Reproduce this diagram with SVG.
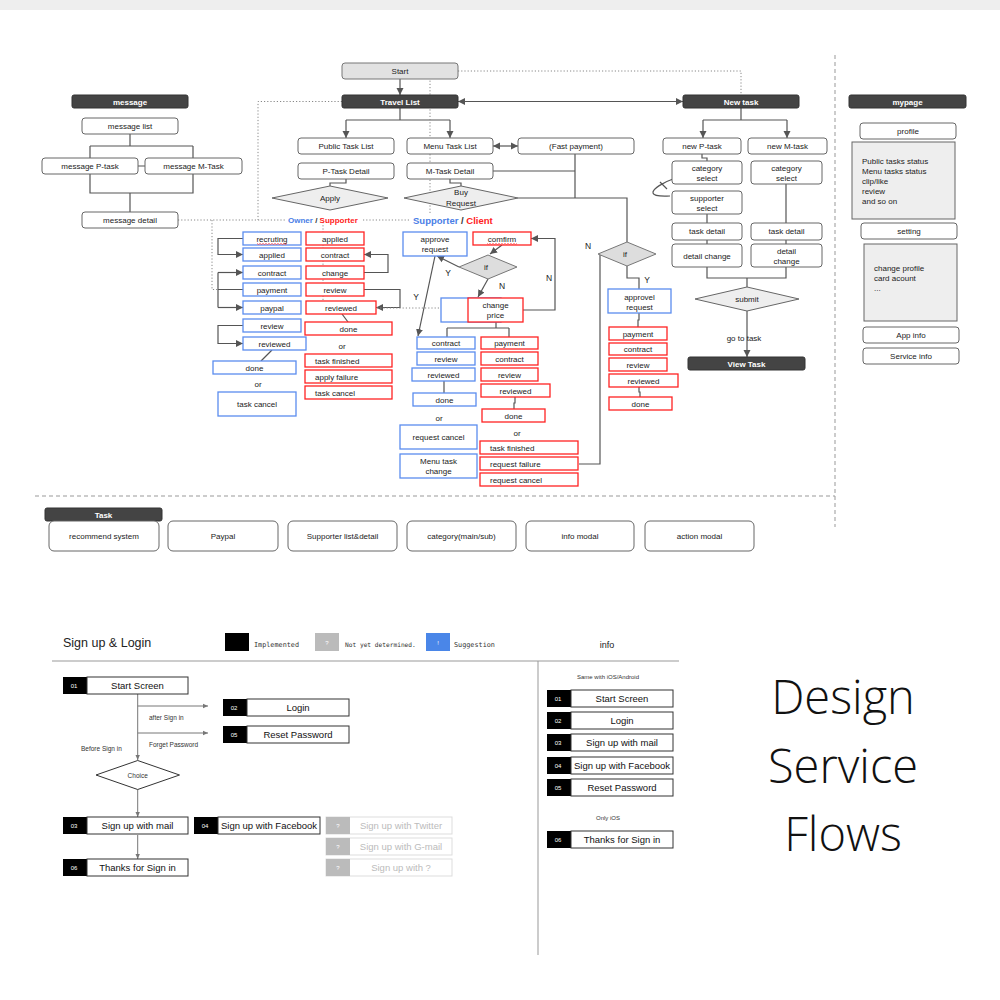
<svg xmlns="http://www.w3.org/2000/svg" width="1000" height="1000" viewBox="0 0 1000 1000">
<style>
.bx{fill:#fff;stroke:#666;stroke-width:1}
.hd{fill:#444;stroke:#333;stroke-width:1}
.bl{fill:#fff;stroke:#5b8def;stroke-width:1.3}
.rd{fill:#fff;stroke:#f22;stroke-width:1.3}
.gy{fill:#eee;stroke:#666;stroke-width:1}
.tk{fill:#fff;stroke:#666;stroke-width:1}
text{font-family:"Liberation Sans",Arial,sans-serif;font-size:8px;fill:#222;text-anchor:middle}
.ht{fill:#fff;font-weight:bold}
.st{text-anchor:start}
.lb{font-size:8.5px}
.c{fill:none;stroke:#555;stroke-width:1.2}
.d{fill:none;stroke:#888;stroke-width:1;stroke-dasharray:1.2 2}
.ds{fill:none;stroke:#999;stroke-width:1;stroke-dasharray:4 3}
.sq{fill:none;stroke:#f44;stroke-width:0.8}
.k{fill:#000}
.wb{fill:#fff;stroke:#333;stroke-width:1}
.nm{fill:#fff;font-size:6px}
.sl{font-size:9.5px;fill:#111}
.gk{fill:#bbb}
.gb{fill:#fff;stroke:#ddd;stroke-width:1}
.gt{font-size:9.5px;fill:#bbb}
.sc{fill:none;stroke:#777;stroke-width:1}
.sm{font-size:6.5px;fill:#333}
.xs{font-size:6px;fill:#333}
.mono{font-family:"DejaVu Sans Mono",monospace;fill:#333}
.big{font-family:"Open Sans","Noto Sans",sans-serif;font-size:47px;font-weight:300;fill:#111}
.role{font-weight:bold}
</style>
<defs>
<marker id="a" markerUnits="userSpaceOnUse" markerWidth="8" markerHeight="8" refX="7" refY="4" orient="auto-start-reverse"><path d="M0,0.5 L7,4 L0,7.5 z" fill="#555"/></marker>
<marker id="s" markerUnits="userSpaceOnUse" markerWidth="6" markerHeight="6" refX="5" refY="3" orient="auto"><path d="M0,0.8 L5,3 L0,5.2 z" fill="#777"/></marker>
</defs>
<rect x="0" y="0" width="1000" height="10" fill="#eee"/>
<rect x="0" y="10" width="1000" height="990" fill="#fff"/>

<g id="separators">
<path class="ds" d="M35,496 H835"/>
<path class="ds" d="M835,55 V527"/>
</g>

<g id="connectors">
<path class="c" d="M130,134 V146 M90,146 H193 M90,146 V158 M193,146 V158 M138,166 H145 M90,174 V193 H193 V174 M130,193 V212"/>
<path class="c" d="M400,79 V95" marker-end="url(#a)"/>
<path class="c" d="M400,108 V120 M346,120 H450"/>
<path class="c" d="M346,120 V138" marker-end="url(#a)"/>
<path class="c" d="M450,120 V138" marker-end="url(#a)"/>
<path class="c" d="M493,146 H518" marker-start="url(#a)" marker-end="url(#a)"/>
<path class="c" d="M346,179 V183 H330 V186"/>
<path class="c" d="M450,179 V183 H461 V186"/>
<path class="c" d="M493,171 H575 M575,154 V198 M518,198 H627 V242"/>
<path class="c" d="M458,101.5 H683" marker-start="url(#a)" marker-end="url(#a)"/>
<path class="c" d="M741,108 V120 M703,120 H787"/>
<path class="c" d="M703,120 V138" marker-end="url(#a)"/>
<path class="c" d="M787,120 V138" marker-end="url(#a)"/>
<path class="c" d="M702,154 V158 H707 V161 M707,214 V223 M707,240 V244 M786,184 V223 M786,240 V244 M707,267 V278 H786 V267 M747,278 V287"/>
<path class="c" d="M747,311 V357" marker-end="url(#a)"/>
<path class="c" d="M673,179 C664,182 652,189 653,193 C654,197 664,196 670,196 M660,182 L667,189" stroke-width="1"/>
<path class="c" d="M627,266 V278 H639 V289 M639,313 V320 H638 V327 M639,387 V392 H640 V397"/>
<path class="c" d="M600,255 V464 H579"/>
<path class="c" d="M243,238.5 H218 V254.5 H243" marker-end="url(#a)"/>
<path class="c" d="M243,289.5 H218 M218,272.5 V307.5"/>
<path class="c" d="M218,272.5 H243" marker-end="url(#a)"/>
<path class="c" d="M218,307.5 H243" marker-end="url(#a)"/>
<path class="c" d="M243,325.5 H218 V343.5 H243" marker-end="url(#a)"/>
<path class="c" d="M272,350 L261,361"/>
<path class="c" d="M364,272.5 H388 V254.5 H364" marker-end="url(#a)"/>
<path class="c" d="M364,289.5 H400 V307.5 H376" marker-end="url(#a)"/>
<path class="c" d="M342,314 L348,322"/>
<path class="c" d="M502,245 L490,254" marker-end="url(#a)"/>
<path class="c" d="M459,267 L437,256" marker-end="url(#a)"/>
<path class="c" d="M488,279 L478,297" marker-end="url(#a)"/>
<path class="c" d="M523,310 H555 V238.5 H531" marker-end="url(#a)"/>
<path class="c" d="M435,256 L418,336" marker-end="url(#a)"/>
<path class="c" d="M496,322 V328 M447,328 H509 M447,328 V337 M509,328 V337 M444,381 V393 M515,397 V403 H514 V409"/>
<path class="d" d="M458,71 H741 V95"/>
<path class="d" d="M342,101.5 H258 V220"/>
<path class="d" d="M178,220 H286 M363,220 H411"/>
<path class="d" d="M430,71 V213"/>
<path class="d" d="M212,220 V289.5 H218"/>
<path class="d" d="M323,222 V308"/>
<path class="d" d="M377,308 H441"/>
</g>

<g id="message"><rect class="hd" x="72" y="95" width="116" height="13" rx="2"/><text class="ht" x="130" y="104.5">message</text></g>
<g id="message-list"><rect class="bx" x="82" y="118" width="96" height="16" rx="3"/><text x="130" y="129">message list</text></g>
<g id="message-p"><rect class="bx" x="42" y="158" width="96" height="16" rx="3"/><text x="90" y="169">message P-task</text></g>
<g id="message-m"><rect class="bx" x="145" y="158" width="97" height="16" rx="3"/><text x="193.5" y="169">message M-Task</text></g>
<g id="message-detail"><rect class="bx" x="82" y="212" width="96" height="16" rx="3"/><text x="130" y="223">message detail</text></g>

<g id="start"><rect x="342" y="63" width="116" height="16" rx="3" fill="#e2e2e2" stroke="#777"/><text x="400" y="74">Start</text></g>
<g id="travel-list"><rect class="hd" x="342" y="95" width="116" height="13" rx="2"/><text class="ht" x="400" y="104.5">Travel List</text></g>
<g id="new-task"><rect class="hd" x="683" y="95" width="116" height="13" rx="2"/><text class="ht" x="741" y="104.5">New task</text></g>
<g id="public-task-list"><rect class="bx" x="298" y="138" width="96" height="16" rx="3"/><text x="346" y="149">Public Task List</text></g>
<g id="p-task-detail"><rect class="bx" x="298" y="163" width="96" height="16" rx="3"/><text x="346" y="174">P-Task Detail</text></g>
<g id="apply"><polygon class="gy" points="272,198 330,186 388,198 330,210"/><text x="330" y="201">Apply</text></g>
<g id="menu-task-list"><rect class="bx" x="407" y="138" width="86" height="16" rx="3"/><text x="450" y="149">Menu Task List</text></g>
<g id="m-task-detail"><rect class="bx" x="407" y="163" width="86" height="16" rx="3"/><text x="450" y="174">M-Task Detail</text></g>
<g id="buy-request"><polygon class="gy" points="404,198 461,186 518,198 461,210"/><text x="461" y="195">Buy</text><text x="461" y="205.5">Request</text></g>
<g id="fast-payment"><rect class="bx" x="518" y="138" width="116" height="16" rx="3"/><text x="576" y="149">(Fast payment)</text></g>

<g id="new-p-task"><rect class="bx" x="663" y="138" width="78" height="16" rx="3"/><text x="702" y="149">new P-task</text></g>
<g id="new-m-task"><rect class="bx" x="748" y="138" width="79" height="16" rx="3"/><text x="787.5" y="149">new M-task</text></g>
<g id="category-p"><rect class="bx" x="672" y="161" width="70" height="23" rx="3"/><text x="707" y="171">category</text><text x="707" y="180.5">select</text></g>
<g id="category-m"><rect class="bx" x="751" y="161" width="71" height="23" rx="3"/><text x="786.5" y="171">category</text><text x="786.5" y="180.5">select</text></g>
<g id="supporter-select"><rect class="bx" x="672" y="191" width="70" height="23" rx="3"/><text x="707" y="201">supporter</text><text x="707" y="211">select</text></g>
<g id="task-detail-p"><rect class="bx" x="672" y="223" width="70" height="17" rx="3"/><text x="707" y="234">task detail</text></g>
<g id="task-detail-m"><rect class="bx" x="751" y="223" width="71" height="17" rx="3"/><text x="786.5" y="234">task detail</text></g>
<g id="detail-change-p"><rect class="bx" x="672" y="244" width="70" height="23" rx="3"/><text x="707" y="258.5">detail change</text></g>
<g id="detail-change-m"><rect class="bx" x="751" y="244" width="71" height="23" rx="3"/><text x="786.5" y="254">detail</text><text x="786.5" y="264">change</text></g>
<g id="submit"><polygon class="gy" points="695,299 747,287 799,299 747,311"/><text x="747" y="302">submit</text></g>
<g id="go-to-task-label"><text x="744" y="341">go to task</text></g>
<g id="view-task"><rect class="hd" x="688" y="357" width="117" height="13" rx="2"/><text class="ht" x="746.5" y="366.5">View Task</text></g>

<g id="mypage"><rect class="hd" x="849" y="95" width="117" height="13" rx="2"/><text class="ht" x="907.5" y="104.5">mypage</text></g>
<g id="profile"><rect class="bx" x="860" y="123" width="96" height="16" rx="3"/><text x="908" y="134">profile</text></g>
<g id="profile-box"><rect class="gy" x="852" y="142" width="103" height="77"/><text class="st" x="862" y="164">Public tasks status</text><text class="st" x="862" y="174">Menu tasks status</text><text class="st" x="862" y="184">clip/like</text><text class="st" x="862" y="194">review</text><text class="st" x="862" y="204">and so on</text></g>
<g id="setting"><rect class="bx" x="861" y="223" width="96" height="16" rx="3"/><text x="909" y="234">setting</text></g>
<g id="setting-box"><rect class="gy" x="864" y="244" width="93" height="77"/><text class="st" x="874" y="270.5">change profile</text><text class="st" x="874" y="280.5">card acount</text><text class="st" x="874" y="290.5">...</text></g>
<g id="app-info"><rect class="bx" x="863" y="327" width="96" height="16" rx="3"/><text x="911" y="338">App info</text></g>
<g id="service-info"><rect class="bx" x="863" y="348" width="96" height="16" rx="3"/><text x="911" y="359">Service info</text></g>

<g id="owner-supporter-label"><text class="st role" x="288" y="223"><tspan fill="#4a7ee6">Owner</tspan><tspan fill="#333"> / </tspan><tspan fill="#f22">Supporter</tspan></text></g>
<g id="supporter-client-label"><text class="st role" x="413" y="223.5" style="font-size:9.5px"><tspan fill="#4a7ee6">Supporter</tspan><tspan fill="#333"> / </tspan><tspan fill="#f22">Client</tspan></text></g>

<g id="o-recruting"><rect class="bl" x="243" y="232" width="58" height="13"/><text x="272" y="241.5">recruting</text><path class="sq" d="M257,243.5 l1.5,1 1.5,-1 1.5,1 1.5,-1 1.5,1 1.5,-1 1.5,1 1.5,-1 1.5,1 1.5,-1 1.5,1 1.5,-1 1.5,1 1.5,-1 1.5,1 1.5,-1 1.5,1 1.5,-1 1.5,1 1.5,-1"/></g>
<g id="o-applied"><rect class="bl" x="243" y="248" width="58" height="13"/><text x="272" y="257.5">applied</text></g>
<g id="o-contract"><rect class="bl" x="243" y="266" width="58" height="13"/><text x="272" y="275.5">contract</text></g>
<g id="o-payment"><rect class="bl" x="243" y="283" width="58" height="13"/><text x="272" y="292.5">payment</text></g>
<g id="o-paypal"><rect class="bl" x="243" y="301" width="58" height="13"/><text x="272" y="310.5">paypal</text></g>
<g id="o-review"><rect class="bl" x="243" y="319" width="58" height="13"/><text x="272" y="328.5">review</text></g>
<g id="o-reviewed"><rect class="bl" x="243" y="337" width="63" height="13"/><text x="274.5" y="346.5">reviewed</text></g>
<g id="o-done"><rect class="bl" x="213" y="361" width="83" height="13"/><text x="254.5" y="370.5">done</text></g>
<g id="o-or"><text x="258" y="387">or</text></g>
<g id="o-task-cancel"><rect class="bl" x="218" y="392" width="78" height="24"/><text x="257" y="407">task cancel</text></g>

<g id="s-applied"><rect class="rd" x="306" y="232" width="58" height="13"/><text x="335" y="241.5">applied</text></g>
<g id="s-contract"><rect class="rd" x="306" y="248" width="58" height="13"/><text x="335" y="257.5">contract</text></g>
<g id="s-change"><rect class="rd" x="306" y="266" width="58" height="13"/><text x="335" y="275.5">change</text></g>
<g id="s-review"><rect class="rd" x="306" y="283" width="58" height="13"/><text x="335" y="292.5">review</text></g>
<g id="s-reviewed"><rect class="rd" x="306" y="301" width="70" height="13"/><text x="341" y="310.5">reviewed</text></g>
<g id="s-done"><rect class="rd" x="305" y="322" width="87" height="13"/><text x="348.5" y="331.5">done</text></g>
<g id="s-or"><text x="342" y="349">or</text></g>
<g id="s-task-finished"><rect class="rd" x="305" y="354" width="87" height="13"/><text class="st" x="315" y="363.5">task finished</text></g>
<g id="s-apply-failure"><rect class="rd" x="305" y="370" width="87" height="13"/><text class="st" x="315" y="379.5">apply failure</text></g>
<g id="s-task-cancel"><rect class="rd" x="305" y="386" width="87" height="13"/><text class="st" x="315" y="395.5">task cancel</text></g>

<g id="m-approve-request"><rect class="bl" x="403" y="232" width="64" height="24"/><text x="435" y="242">approve</text><text x="435" y="252">request</text></g>
<g id="m-contract"><rect class="bl" x="417" y="337" width="58" height="12"/><text x="446" y="346">contract</text></g>
<g id="m-review"><rect class="bl" x="417" y="352" width="58" height="13"/><text x="446" y="361.5">review</text></g>
<g id="m-reviewed"><rect class="bl" x="412" y="368" width="63" height="13"/><text x="443.5" y="377.5">reviewed</text></g>
<g id="m-done"><rect class="bl" x="413" y="393" width="63" height="13"/><text x="444.5" y="402.5">done</text></g>
<g id="m-or"><text x="439" y="421">or</text></g>
<g id="m-request-cancel"><rect class="bl" x="400" y="425" width="77" height="24"/><text x="438.5" y="440">request cancel</text></g>
<g id="m-menu-task-change"><rect class="bl" x="400" y="454" width="77" height="24"/><text x="438.5" y="463.5">Menu task</text><text x="438.5" y="474">change</text></g>

<g id="c-comfirm"><rect class="rd" x="473" y="232" width="58" height="13"/><text x="502" y="241.5">comfirm</text><path class="sq" d="M487,243.5 l1.5,1 1.5,-1 1.5,1 1.5,-1 1.5,1 1.5,-1 1.5,1 1.5,-1 1.5,1 1.5,-1 1.5,1 1.5,-1 1.5,1 1.5,-1 1.5,1 1.5,-1 1.5,1 1.5,-1 1.5,1 1.5,-1"/></g>
<g id="c-if"><polygon points="459,267 488,255 517,267 488,279" fill="#ddd" stroke="#777"/><text x="486" y="270">if</text></g>
<g id="c-change-price"><rect class="bl" x="441" y="298" width="60" height="24"/><rect class="rd" x="468" y="298" width="55" height="24"/><text x="495.5" y="308">change</text><text x="495.5" y="318">price</text></g>
<g id="c-payment"><rect class="rd" x="481" y="337" width="57" height="12"/><text x="509.5" y="346">payment</text></g>
<g id="c-contract"><rect class="rd" x="481" y="352" width="57" height="13"/><text x="509.5" y="361.5">contract</text></g>
<g id="c-review"><rect class="rd" x="481" y="368" width="57" height="13"/><text x="509.5" y="377.5">review</text></g>
<g id="c-reviewed"><rect class="rd" x="481" y="384" width="69" height="13"/><text x="515.5" y="393.5">reviewed</text></g>
<g id="c-done"><rect class="rd" x="482" y="409" width="63" height="13"/><text x="513.5" y="418.5">done</text></g>
<g id="c-or"><text x="517" y="436">or</text></g>
<g id="c-task-finished"><rect class="rd" x="480" y="441" width="98" height="13"/><text class="st" x="490" y="450.5">task finished</text></g>
<g id="c-request-failure"><rect class="rd" x="480" y="457" width="98" height="13"/><text class="st" x="490" y="466.5">request failure</text></g>
<g id="c-request-cancel"><rect class="rd" x="480" y="473" width="98" height="13"/><text class="st" x="490" y="482.5">request cancel</text></g>

<g id="f-if"><polygon points="598,254 627,242 656,254 627,266" fill="#ddd" stroke="#777"/><text x="625" y="257">if</text></g>
<g id="f-approvel-request"><rect class="bl" x="608" y="289" width="63" height="24"/><text x="639.5" y="299.5">approvel</text><text x="639.5" y="309.5">request</text></g>
<g id="f-payment"><rect class="rd" x="609" y="327" width="58" height="13"/><text x="638" y="336.5">payment</text></g>
<g id="f-contract"><rect class="rd" x="609" y="343" width="58" height="12"/><text x="638" y="352">contract</text></g>
<g id="f-review"><rect class="rd" x="609" y="358" width="58" height="13"/><text x="638" y="367.5">review</text></g>
<g id="f-reviewed"><rect class="rd" x="609" y="374" width="69" height="13"/><text x="643.5" y="383.5">reviewed</text></g>
<g id="f-done"><rect class="rd" x="609" y="397" width="63" height="13"/><text x="640.5" y="406.5">done</text></g>

<g id="yn-labels">
<text class="lb" x="588" y="249">N</text>
<text class="lb" x="647" y="283">Y</text>
<text class="lb" x="549" y="281">N</text>
<text class="lb" x="448" y="276">Y</text>
<text class="lb" x="502" y="289">N</text>
<text class="lb" x="416" y="300">Y</text>
</g>

<g id="task-header"><rect class="hd" x="45" y="508" width="117" height="13" rx="2"/><text class="ht" x="103.5" y="517.5">Task</text></g>
<g id="recommend-system"><rect class="tk" x="49" y="521" width="110" height="30" rx="5"/><text x="104" y="539">recommend system</text></g>
<g id="paypal"><rect class="tk" x="168" y="521" width="110" height="30" rx="5"/><text x="223" y="539">Paypal</text></g>
<g id="supporter-list"><rect class="tk" x="288" y="521" width="109" height="30" rx="5"/><text x="342.5" y="539">Supporter list&amp;detail</text></g>
<g id="category"><rect class="tk" x="407" y="521" width="109" height="30" rx="5"/><text x="461.5" y="539">category(main/sub)</text></g>
<g id="info-modal"><rect class="tk" x="526" y="521" width="108" height="30" rx="5"/><text x="580" y="539">info modal</text></g>
<g id="action-modal"><rect class="tk" x="645" y="521" width="109" height="30" rx="5"/><text x="699.5" y="539">action modal</text></g>

<g id="signup-header">
<text class="st" x="63" y="647" style="font-size:12.5px;fill:#222">Sign up &amp; Login</text>
<rect x="225" y="633" width="24" height="18" fill="#000"/>
<text class="st mono" x="254" y="647" style="font-size:6.8px">Implemented</text>
<rect x="315" y="633" width="24" height="18" fill="#bbb"/><text x="327" y="644.5" style="fill:#fff;font-size:6px">?</text>
<text class="st mono" x="345" y="647" style="font-size:6.2px">Not yet determined.</text>
<rect x="426" y="633" width="24" height="18" fill="#4a86e8"/><text x="438" y="644.5" style="fill:#fff;font-size:6px">!</text>
<text class="st mono" x="454" y="647" style="font-size:6.8px">Suggestion</text>
<text x="607" y="648" style="font-size:9px">info</text>
<path d="M52,661 H679 M538,661 V955" stroke="#999" stroke-width="1" fill="none"/>
</g>

<g id="signup-connectors">
<path class="sc" d="M137.7,694 V760" marker-end="url(#s)"/>
<path class="sc" d="M137.7,706 H208" marker-end="url(#s)"/>
<path class="sc" d="M137.7,733 H208" marker-end="url(#s)"/>
<path class="sc" d="M137.7,789.5 V817" marker-end="url(#s)"/>
<path class="sc" d="M137.7,835 V859" marker-end="url(#s)"/>
<text class="st sm" x="149" y="720">after Sign in</text>
<text class="st sm" x="149" y="746.5">Forget Password</text>
<text class="st sm" x="81" y="751">Before Sign in</text>
</g>

<g id="s01"><rect class="k" x="63" y="677" width="24" height="17"/><rect class="wb" x="87" y="677" width="101" height="17"/><text class="nm" x="74" y="687.5">01</text><text class="sl" x="137.5" y="689">Start Screen</text></g>
<g id="s02"><rect class="k" x="223" y="699" width="24" height="17"/><rect class="wb" x="247" y="699" width="102" height="17"/><text class="nm" x="234" y="709.5">02</text><text class="sl" x="298" y="711">Login</text></g>
<g id="s05"><rect class="k" x="223" y="726" width="24" height="17"/><rect class="wb" x="247" y="726" width="102" height="17"/><text class="nm" x="234" y="736.5">05</text><text class="sl" x="298" y="738">Reset Password</text></g>
<g id="choice"><polygon points="96,775 137.7,760.5 179.5,775 137.7,789.5" fill="#fff" stroke="#333"/><text class="sm" x="137.7" y="777.5">Choice</text></g>
<g id="s03"><rect class="k" x="63" y="817" width="24" height="17"/><rect class="wb" x="87" y="817" width="101" height="17"/><text class="nm" x="74" y="827.5">03</text><text class="sl" x="137.5" y="829">Sign up with mail</text></g>
<g id="s04"><rect class="k" x="194" y="817" width="24" height="17"/><rect class="wb" x="218" y="817" width="102" height="17"/><text class="nm" x="205" y="827.5">04</text><text class="sl" x="269" y="829">Sign up with Facebook</text></g>
<g id="s06"><rect class="k" x="63" y="859" width="24" height="17"/><rect class="wb" x="87" y="859" width="101" height="17"/><text class="nm" x="74" y="869.5">06</text><text class="sl" x="137.5" y="871">Thanks for Sign in</text></g>
<g id="q-twitter"><rect class="gb" x="326" y="817" width="126" height="17"/><rect class="gk" x="326" y="817" width="24" height="17"/><text class="nm" x="338" y="827.5">?</text><text class="gt" x="401" y="829">Sign up with Twitter</text></g>
<g id="q-gmail"><rect class="gb" x="326" y="838" width="126" height="17"/><rect class="gk" x="326" y="838" width="24" height="17"/><text class="nm" x="338" y="848.5">?</text><text class="gt" x="401" y="850">Sign up with G-mail</text></g>
<g id="q-other"><rect class="gb" x="326" y="859" width="126" height="17"/><rect class="gk" x="326" y="859" width="24" height="17"/><text class="nm" x="338" y="869.5">?</text><text class="gt" x="401" y="871">Sign up with ?</text></g>

<g id="info-notes"><text class="xs" x="608" y="679">Same with iOS/Android</text><text class="xs" x="608" y="820">Only iOS</text></g>
<g id="i01"><rect class="k" x="547" y="690" width="24" height="17"/><rect class="wb" x="571" y="690" width="102" height="17"/><text class="nm" x="558" y="700.5">01</text><text class="sl" x="622" y="702">Start Screen</text></g>
<g id="i02"><rect class="k" x="547" y="712" width="24" height="17"/><rect class="wb" x="571" y="712" width="102" height="17"/><text class="nm" x="558" y="722.5">02</text><text class="sl" x="622" y="724">Login</text></g>
<g id="i03"><rect class="k" x="547" y="734" width="24" height="17"/><rect class="wb" x="571" y="734" width="102" height="17"/><text class="nm" x="558" y="744.5">03</text><text class="sl" x="622" y="746">Sign up with mail</text></g>
<g id="i04"><rect class="k" x="547" y="757" width="24" height="17"/><rect class="wb" x="571" y="757" width="102" height="17"/><text class="nm" x="558" y="767.5">04</text><text class="sl" x="622" y="769">Sign up with Facebook</text></g>
<g id="i05"><rect class="k" x="547" y="779" width="24" height="17"/><rect class="wb" x="571" y="779" width="102" height="17"/><text class="nm" x="558" y="789.5">05</text><text class="sl" x="622" y="791">Reset Password</text></g>
<g id="i06"><rect class="k" x="547" y="831" width="24" height="17"/><rect class="wb" x="571" y="831" width="102" height="17"/><text class="nm" x="558" y="841.5">06</text><text class="sl" x="622" y="843">Thanks for Sign in</text></g>

<g id="title">
<text class="big" x="843" y="714">Design</text>
<text class="big" x="843" y="783">Service</text>
<text class="big" x="843" y="851">Flows</text>
</g>
</svg>
